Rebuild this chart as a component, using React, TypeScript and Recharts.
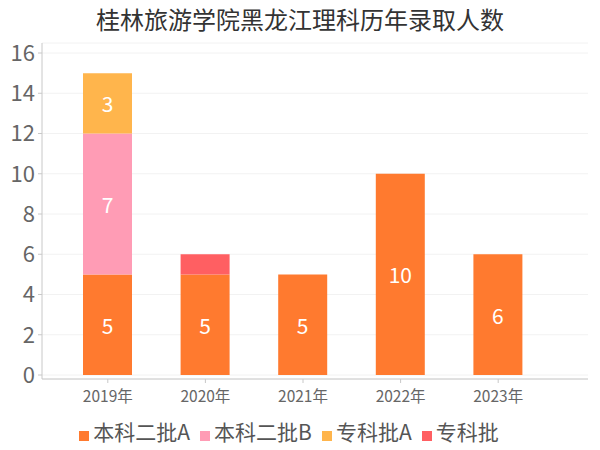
import React from "react";
import {
    BarChart,
    Bar,
    XAxis,
    YAxis,
    CartesianGrid,
    Legend
} from "recharts";

const years = ["2019年", "2020年", "2021年", "2022年", "2023年"];
const benkeA = [5, 5, 5, 10, 6];
const benkeB = [7, 0, 0, 0, 0];
const zhuankeA = [3, 0, 0, 0, 0];
const zhuanke = [0, 1, 0, 0, 0];
const yTicks = [0, 2, 4, 6, 8, 10, 12, 14, 16];

const data = years.map((year, i) => ({
    year,
    benkeA: benkeA[i],
    benkeB: benkeB[i],
    zhuankeA: zhuankeA[i],
    zhuanke: zhuanke[i],
}));

const seriesOrder = ["本科二批A", "本科二批B", "专科批A", "专科批"];

const FONT = '"Noto Sans CJK SC", "Noto Sans", sans-serif';

// white value inside the segment, empty segments stay blank
const SegmentLabel = (props: any) => {
    const { x, y, width, height, index, values } = props;
    const v = values[index];
    if (!v) return null;
    return (
        <text x={x + width / 2} y={y + height / 2} fill="#fff" fontSize={21} fontFamily={FONT} textAnchor="middle" dominantBaseline="central">
            {v}
        </text>
    );
};

export default function App() {
    return (
        <div style={{ position: "absolute", left: 0, top: 0, width: 600, height: 450, background: "#fff", fontFamily: FONT }}>
            <div style={{ position: "absolute", left: 0, top: 1, width: 600, textAlign: "center", fontSize: 24, color: "#333" }}>
                桂林旅游学院黑龙江理科历年录取人数
            </div>
            <BarChart
                width={600}
                height={450}
                data={data}
                margin={{ top: 43, right: 12, bottom: 4, left: 0 }}
                barSize={49}
            >
                <CartesianGrid vertical={false} stroke="#f2f2f2" />
                <XAxis
                    dataKey="year"
                    height={37}
                    padding={{ left: 17, right: 41 }}
                    axisLine={{ stroke: "#c8c8c8" }}
                    tickLine={{ stroke: "#c8c8c8" }}
                    tickSize={4}
                    tickMargin={8}
                    tick={{ fill: "#666", fontSize: 15.5, fontFamily: FONT }}
                />
                <YAxis
                    width={42}
                    domain={[0, 16]}
                    ticks={yTicks}
                    padding={{ top: 10, bottom: 4 }}
                    axisLine={{ stroke: "#c8c8c8" }}
                    tickLine={{ stroke: "#c8c8c8" }}
                    tickSize={4}
                    tickMargin={3}
                    tick={{ fill: "#666", fontSize: 22, fontFamily: FONT }}
                />
                <Legend
                    iconType="square"
                    iconSize={10}
                    itemSorter={(item: any) => seriesOrder.indexOf(item.value)}
                    formatter={(value) => <span style={{ color: "#555", fontSize: 21 }}>{value}</span>}
                />
                <Bar dataKey="benkeA" name="本科二批A" stackId="a" fill="#ff7a2f" isAnimationActive={false} label={<SegmentLabel values={benkeA} />} />
                <Bar dataKey="benkeB" name="本科二批B" stackId="a" fill="#ff9cb5" isAnimationActive={false} label={<SegmentLabel values={benkeB} />} />
                <Bar dataKey="zhuankeA" name="专科批A" stackId="a" fill="#ffb54c" isAnimationActive={false} label={<SegmentLabel values={zhuankeA} />} />
                <Bar dataKey="zhuanke" name="专科批" stackId="a" fill="#ff5f62" isAnimationActive={false} />
            </BarChart>
        </div>
    );
}
